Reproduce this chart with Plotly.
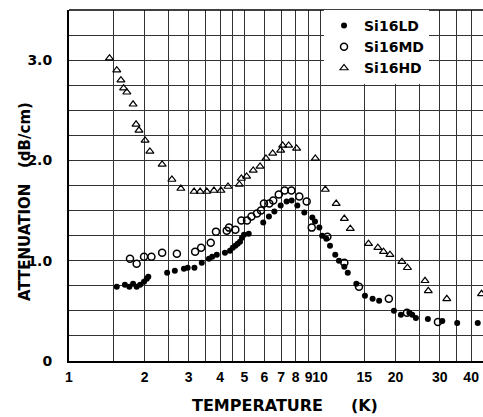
import math
import plotly.graph_objects as go

# ---- data (temperature in K, attenuation in dB/cm) ----
ld_T = [1.55, 1.67, 1.74, 1.80, 1.86, 1.92, 1.99, 2.04, 2.07, 2.46, 2.64, 2.87, 2.97, 3.16, 3.38,
        3.61, 3.72, 3.88, 4.18, 4.38, 4.49, 4.60, 4.70, 4.80, 4.89, 4.98, 5.20, 5.94, 6.26, 6.58,
        6.97, 7.36, 7.71, 8.12, 8.66, 9.32, 9.55, 9.94, 10.2, 10.6, 10.96, 11.5, 11.9, 12.5, 12.9,
        13.95, 15.1, 16.2, 17.2, 19.7, 21.0, 22.7, 23.3, 24.1, 26.9, 30.7, 35.2, 42.5]
ld_A = [0.74, 0.76, 0.74, 0.77, 0.74, 0.76, 0.79, 0.82, 0.84, 0.88, 0.90, 0.92, 0.93, 0.93, 0.98,
        1.02, 1.04, 1.06, 1.08, 1.10, 1.13, 1.15, 1.17, 1.19, 1.23, 1.26, 1.27, 1.38, 1.44, 1.49,
        1.55, 1.59, 1.60, 1.55, 1.48, 1.43, 1.39, 1.33, 1.25, 1.22, 1.15, 1.06, 1.00, 0.94, 0.88,
        0.77, 0.65, 0.62, 0.60, 0.50, 0.46, 0.48, 0.46, 0.43, 0.42, 0.40, 0.38, 0.38]

md_T = [1.75, 1.86, 1.99, 2.13, 2.35, 2.69, 3.18, 3.36, 3.67, 3.85, 4.25, 4.34, 4.60, 4.86, 5.12,
        5.33, 5.61, 5.82, 5.98, 6.28, 6.51, 6.85, 7.23, 7.69, 8.27, 8.85, 9.27, 10.7, 12.5, 14.3,
        18.8, 22.2, 29.5]
md_A = [1.02, 0.97, 1.04, 1.04, 1.08, 1.07, 1.09, 1.13, 1.18, 1.29, 1.30, 1.33, 1.31, 1.40, 1.40,
        1.44, 1.47, 1.50, 1.57, 1.57, 1.60, 1.66, 1.70, 1.70, 1.64, 1.59, 1.33, 1.24, 0.98, 0.74,
        0.62, 0.48, 0.39]

hd_T = [1.45, 1.55, 1.61, 1.65, 1.70, 1.80, 1.85, 1.90, 2.01, 2.10, 2.35, 2.57, 2.79, 3.15, 3.33,
        3.54, 3.78, 4.03, 4.30, 4.77, 4.86, 5.10, 5.42, 5.77, 6.09, 6.48, 6.97, 7.10, 7.50, 8.07,
        9.58, 10.5, 11.6, 12.5, 13.2, 15.6, 17.0, 17.9, 19.0, 21.2, 22.3, 26.2, 27.0, 32.0, 44.0]
hd_A = [3.02, 2.90, 2.80, 2.72, 2.68, 2.56, 2.36, 2.30, 2.20, 2.09, 1.96, 1.81, 1.72, 1.69, 1.69,
        1.69, 1.70, 1.70, 1.74, 1.76, 1.82, 1.84, 1.90, 1.94, 2.02, 2.07, 2.10, 2.15, 2.15, 2.12,
        2.02, 1.71, 1.57, 1.42, 1.32, 1.17, 1.13, 1.09, 1.06, 0.99, 0.93, 0.80, 0.70, 0.62, 0.67]

x_grid = [1, 1.5, 2, 2.5, 3, 3.5, 4, 4.5, 5, 6, 7, 8, 9, 10, 15, 20, 25, 30, 35, 40, 45]
x_labeled = {1: "1", 2: "2", 3: "3", 4: "4", 5: "5", 6: "6", 7: "7", 8: "8",
             9: "9", 10: "10", 15: "15", 20: "20", 30: "30", 40: "40"}
y_grid = [i * 0.25 for i in range(15)]
y_labeled = {0.0: "0", 1.0: "1.0", 2.0: "2.0", 3.0: "3.0"}

FONT = "DejaVu Sans"
XTICK_FONT = "Liberation Sans"

fig = go.Figure()
fig.add_trace(go.Scatter(x=ld_T, y=ld_A, mode="markers", name="Si16LD",
                         marker=dict(symbol="circle", size=6, color="black",
                                     line=dict(width=0))))
fig.add_trace(go.Scatter(x=md_T, y=md_A, mode="markers", name="Si16MD",
                         marker=dict(symbol="circle-open", size=7, color="black",
                                     line=dict(width=1.5))))
fig.add_trace(go.Scatter(x=hd_T, y=hd_A, mode="markers", name="Si16HD",
                         marker=dict(symbol="triangle-up-open", size=7, color="black",
                                     line=dict(width=1.2))))
fig.update_traces(cliponaxis=False)

fig.update_layout(
    width=483, height=417,
    margin=dict(l=69, r=0, t=10, b=56),
    paper_bgcolor="white", plot_bgcolor="white",
    font=dict(family=FONT, color="black", size=14, weight="bold"),
    showlegend=True,
    legend=dict(x=0.616, y=1.0, xanchor="left", yanchor="top",
                bgcolor="white", borderwidth=0,
                font=dict(family=FONT, size=14, weight="bold", color="black"),
                itemwidth=30, tracegroupgap=0),
    xaxis=dict(type="log", range=[0, math.log10(44.6)],
               tickmode="array", tickvals=x_grid,
               ticktext=[x_labeled.get(v, "") for v in x_grid],
               tickangle=0,
               showgrid=True, gridcolor="#333", gridwidth=1,
               showline=True, linecolor="black", linewidth=2, mirror=False,
               ticks="", ticklabelstandoff=2,
               tickfont=dict(family=XTICK_FONT, size=14, weight="bold"),
               zeroline=False),
    yaxis=dict(range=[0, 3.5],
               tickmode="array", tickvals=y_grid,
               ticktext=[y_labeled.get(v, "") for v in y_grid],
               showgrid=True, gridcolor="#333", gridwidth=1,
               showline=True, linecolor="black", linewidth=2,
               ticks="", ticklabelstandoff=12,
               tickfont=dict(family=FONT, size=14, weight="bold"),
               zeroline=False),
)

# top frame line
fig.add_shape(type="line", xref="paper", yref="paper", x0=0, x1=1, y0=1, y1=1,
              line=dict(color="black", width=1.5))

fig.add_annotation(text="TEMPERATURE     (K)", xref="paper", yref="paper",
                   x=(285 - 69) / 414, y=-(405 - 361) / 351, xanchor="center", yanchor="middle",
                   showarrow=False, font=dict(family=FONT, size=16, weight="bold"))
fig.add_annotation(text="ATTENUATION   (dB/cm)", xref="paper", yref="paper",
                   x=-(69 - 25) / 414, y=(361 - 202) / 351, xanchor="center", yanchor="middle",
                   textangle=-90, showarrow=False,
                   font=dict(family=FONT, size=15, weight="bold"))

fig.write_html("out.html")
